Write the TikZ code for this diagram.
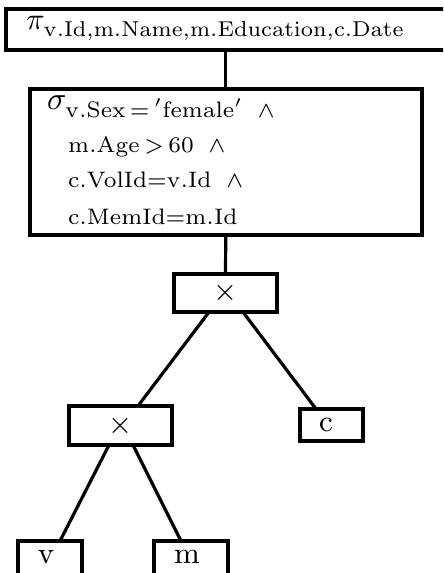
\documentclass[tikz,border=0pt]{standalone}
\usepackage{graphicx}
\usetikzlibrary{calc}
\newcommand{\lowsub}[1]{\lower0.7pt\hbox{$\scriptstyle #1$}}
\begin{document}
\begin{tikzpicture}[x=0.3125pt,y=-0.3125pt,
  box/.style={draw, line width=1.25pt, inner sep=0pt, outer sep=0pt},
  conn/.style={line width=1pt},
  txt/.style={inner sep=0pt, outer sep=0pt, anchor=base west}]
\clip (0,0) rectangle (443,573);
% boxes
\node[box, minimum width=142.03pt, minimum height=12.66pt] (pi) at (232.75,29.75) {};
\node[box, minimum width=122.34pt, minimum height=45.63pt] (sig) at (225.75,162) {};
\node[box, minimum width=32.19pt, minimum height=11.875pt] (tx) at (225.5,293) {\scalebox{1.045}{\small$\times$}};
\node[box, minimum width=32.19pt, minimum height=12.19pt] (lx) at (120.5,425.5) {\scalebox{1.045}{\small$\times$}};
\node[box, minimum width=19.69pt, minimum height=10pt] (c) at (331.5,425) {\scalebox{1.045}{\small c}\kern3.4pt};
\node[box, minimum width=20pt, text height=6.875pt, text depth=11.56pt, anchor=north] (v) at (50,541) {\scalebox{1.045}{\small v}\kern2.5pt};
\node[box, minimum width=23.125pt, text height=6.875pt, text depth=11.56pt, anchor=north] (m) at (191,541) {\scalebox{1.045}{\small m}\kern2.5pt};
% texts
\node[txt, scale=0.96, transform shape] (pt) at (26,29.5) {$\pi_{\lowsub{\mathrm{v.Id,m.Name,m.Education,c.Date}}}$};
\node[txt] (s1) at (47,110) {$\sigma_{\lowsub{\mathrm{v.Sex}\,=\,{}'\mathrm{female}'\;\;\wedge}}$};
\node[txt] (s2) at (68,153) {$\scriptstyle\mathrm{m.Age}\,>\,60\;\;\wedge$};
\node[txt] (s3) at (68,188) {$\scriptstyle\mathrm{c.VolId}=\mathrm{v.Id}\;\;\wedge$};
\node[txt] (s4) at (68,225) {$\scriptstyle\mathrm{c.MemId}=\mathrm{m.Id}$};
% connectors
\draw[conn] (sig.north) -- (sig.north |- pi.south);
\draw[conn] (sig.south) -- (tx.north);
\draw[conn] ($(tx.south)+(-16.5,0)$) -- ($(lx.north)+(17.5,0)$);
\draw[conn] ($(tx.south)+(17.5,0)$) -- ($(c.north)+(-15.5,0)$);
\draw[conn] ($(lx.south)+(-11.5,0)$) -- ($(v.north)+(10,0)$);
\draw[conn] ($(lx.south)+(12.5,0)$) -- ($(m.north)+(-10,0)$);
\end{tikzpicture}
\end{document}
